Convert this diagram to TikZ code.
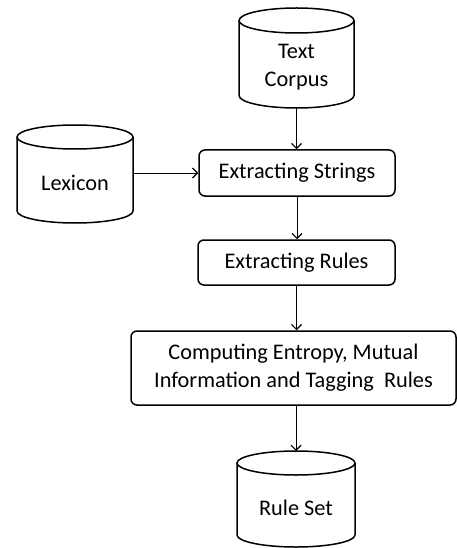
\documentclass[tikz,border=0pt]{standalone}
\usepackage{fontspec}
\setmainfont{Carlito}
\usetikzlibrary{arrows.meta}
\newcommand{\drawdb}[5]{% cx, top, bottom, rx, ry
  \draw[cylline] (#1-#4,#2+#5) -- (#1-#4,#3-#5)
    arc[start angle=180, end angle=360, x radius=#4pt, y radius=#5pt]
    -- (#1+#4,#2+#5);
  \draw[cylline] (#1,#2+#5) ellipse [x radius=#4pt, y radius=#5pt];
}
\begin{document}
\begin{tikzpicture}[x=1pt,y=-1pt,
  txt/.style={font=\fontsize{22.3}{28}\selectfont},
  proc/.style={draw, line width=1.5pt, rounded corners=6pt, inner sep=0pt, align=center, txt},
  lbl/.style={inner sep=0pt, align=center, txt},
  dbarea/.style={inner sep=0pt, outer sep=0pt},
  cylline/.style={line width=1.5pt},
  flow/.style={line width=1pt, -{Straight Barb[length=5pt,width=10pt,line width=1.1pt]}}
]
\useasboundingbox (0,0) rectangle (457,548);

% process boxes
\node[proc, minimum width=196pt, minimum height=46pt] (strings) at (297,173) {Extracting Strings};
\node[proc, minimum width=197pt, minimum height=45pt] (rules) at (296.5,262.5) {Extracting Rules};
\node[proc, minimum width=325pt, minimum height=74pt] (comp) at (293.5,368) {Computing Entropy, Mutual\\Information and Tagging\ \ Rules};

% databases
\drawdb{296.5}{8}{108}{57.5}{12.5}
\node[dbarea, minimum width=115pt, minimum height=100pt] (corpus) at (296.5,58) {};
\node[lbl] (corpustxt) at (296.5,67) {Text\\Corpus};

\drawdb{75}{125}{223}{58}{12}
\node[dbarea, minimum width=116pt, minimum height=98pt] (lex) at (75,174) {};
\node[lbl] (lextxt) at (75,183) {Lexicon};

\drawdb{296}{451}{547}{59}{12}
\node[dbarea, minimum width=118pt, minimum height=96pt] (ruleset) at (296,499) {};
\node[lbl] (ruleettxt) at (296,508) {Rule Set};

% connectors
\draw[flow] (corpus.south) -- (corpus.south |- strings.north);
\draw[flow] (lex.east |- strings.west) -- (strings.west);
\draw[flow] (strings.south) -- (strings.south |- rules.north);
\draw[flow] (rules.south) -- (rules.south |- comp.north);
\draw[flow] (ruleset.north |- comp.south) -- (ruleset.north);
\end{tikzpicture}
\end{document}
